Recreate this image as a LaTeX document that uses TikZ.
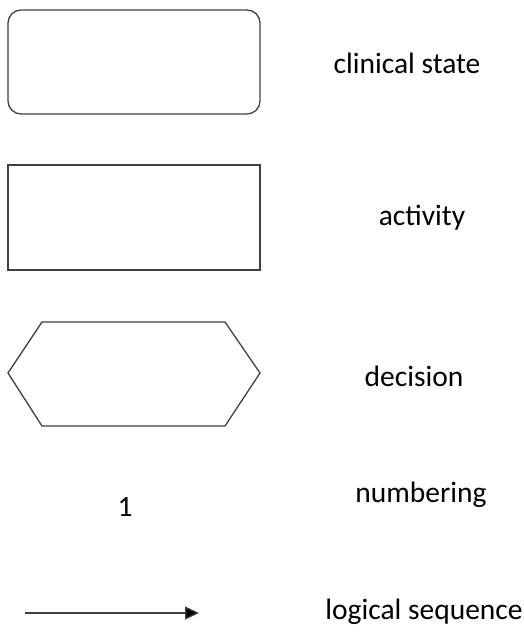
\documentclass[tikz,border=0pt]{standalone}
\usepackage{fontspec}
\setmainfont{Carlito}
\usetikzlibrary{arrows.meta}
\begin{document}
\begin{tikzpicture}[x=1pt,y=-1pt,
  shapeline/.style={draw=black!75,line width=1.3pt},
  legendtext/.style={font=\fontsize{29.5}{34}\selectfont,anchor=center,inner sep=0pt},
  seqarrow/.style={draw=black!75,line width=1.3pt,-{Triangle[length=14pt,width=13pt,fill=black]}}]
\useasboundingbox (0,0) rectangle (523,632);
\draw[shapeline,rounded corners=13pt] (8,10) rectangle (260,114);
\node[legendtext] (t1) at (407,63) {clinical state};
\draw[shapeline] (8,165) rectangle (260,270);
\node[legendtext] (t2) at (422,218) {activity};
\draw[shapeline] (8,373) -- (42,322) -- (225,322) -- (260,373) -- (225,426) -- (42,426) -- cycle;
\node[legendtext] (t3) at (414,376) {decision};
\node[legendtext] (n1) at (125,507) {1};
\node[legendtext] (t4) at (421,495) {numbering};
\coordinate (a1) at (25,613);
\coordinate (a2) at (199,613);
\draw[seqarrow] (a1) -- (a2);
\node[legendtext] (t5) at (424,612) {logical sequence};
\end{tikzpicture}
\end{document}
